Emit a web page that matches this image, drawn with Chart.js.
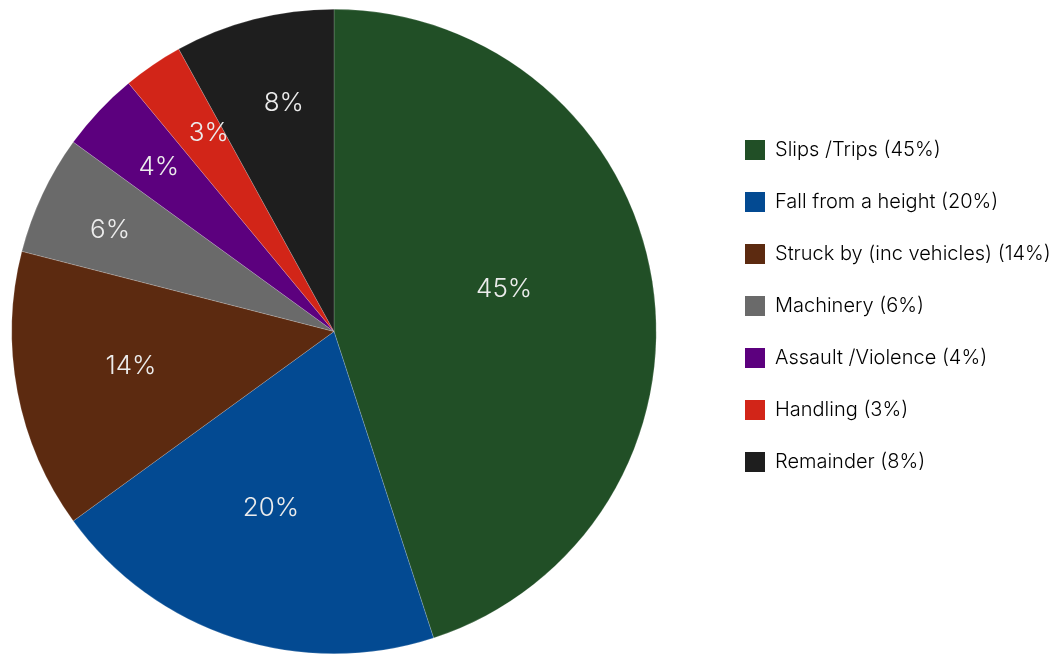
<!DOCTYPE html>
<html>
<head>
<meta charset="utf-8">
<script src="https://cdn.jsdelivr.net/npm/chart.js@4/dist/chart.umd.min.js"></script>
<style>
  html, body { margin: 0; padding: 0; background: #fff; }
  #wrap { width: 1056px; height: 654px; }
</style>
</head>
<body>
<div id="wrap"><canvas id="injuries"></canvas></div>
<script>
const categories = ['Slips /Trips', 'Fall from a height', 'Struck by (inc vehicles)', 'Machinery', 'Assault /Violence', 'Handling', 'Remainder'];
const shares = [45, 20, 14, 6, 4, 3, 8];
const sliceColors = ['#214f26', '#034a92', '#5c2a10', '#6a6a6a', '#5c007e', '#d22518', '#1e1e1e'];

// where each percentage label sits: fraction of the radius, and a small turn (degrees) off the slice middle
const labelRadius = [0.544, 0.583, 0.639, 0.763, 0.746, 0.727, 0.725];
const labelTurn = [-5, 1.6, 1.2, -0.8, 0, 1.9, 2];

const PIE_WIDTH = 668;     // left part of the canvas used by the pie
const LEGEND_X = 745;      // left edge of the legend swatches
const LEGEND_Y = 140;      // top of the first legend row

// percentage text drawn inside each slice
const sliceLabels = {
  id: 'sliceLabels',
  afterDatasetsDraw(chart) {
    const ctx = chart.ctx;
    const meta = chart.getDatasetMeta(0);
    ctx.save();
    ctx.font = '300 26px Inter, "Noto Sans", sans-serif';
    ctx.fillStyle = '#ececec';
    ctx.textAlign = 'center';
    ctx.textBaseline = 'middle';
    meta.data.forEach((arc, i) => {
      const p = arc.getProps(['x', 'y', 'startAngle', 'endAngle', 'outerRadius'], true);
      const mid = (p.startAngle + p.endAngle) / 2 + labelTurn[i] * Math.PI / 180;
      const r = p.outerRadius * labelRadius[i];
      ctx.fillText(shares[i] + '%', p.x + Math.cos(mid) * r, p.y + Math.sin(mid) * r);
    });
    ctx.restore();
  }
};

// fixed legend column to the right of the pie
const legendPlacement = {
  id: 'legendPlacement',
  beforeInit(chart) {
    const fit = chart.legend.fit;
    chart.legend.fit = function() {
      fit.call(this);
      this.width = chart.width - PIE_WIDTH;
    };
  },
  afterLayout(chart) {
    const lg = chart.legend;
    const pad = lg.options.labels.padding;
    const h = lg.bottom - lg.top;
    lg.left = LEGEND_X - pad;
    lg.right = chart.width;
    lg.top = LEGEND_Y - pad;
    lg.bottom = lg.top + h;
  }
};

new Chart(document.getElementById('injuries'), {
  type: 'pie',
  data: {
    labels: categories,
    datasets: [{
      data: shares,
      backgroundColor: sliceColors,
      borderColor: 'rgba(255,255,255,0.35)',
      borderWidth: 0.5
    }]
  },
  options: {
    responsive: true,
    maintainAspectRatio: false,
    animation: false,
    layout: { padding: { top: 9, bottom: 0, left: 0, right: 0 } },
    plugins: {
      tooltip: { enabled: false },
      legend: {
        position: 'right',
        align: 'start',
        labels: {
          boxWidth: 20,
          boxHeight: 20,
          padding: 32,
          color: '#3c3c3c',
          font: { family: 'Inter, "Noto Sans", sans-serif', size: 20, weight: 300 },
          generateLabels(chart) {
            return categories.map((c, i) => ({
              text: c + ' (' + shares[i] + '%)',
              fillStyle: sliceColors[i],
              strokeStyle: sliceColors[i],
              lineWidth: 0,
              hidden: false,
              index: i
            }));
          }
        }
      }
    }
  },
  plugins: [sliceLabels, legendPlacement]
});
</script>
</body>
</html>
